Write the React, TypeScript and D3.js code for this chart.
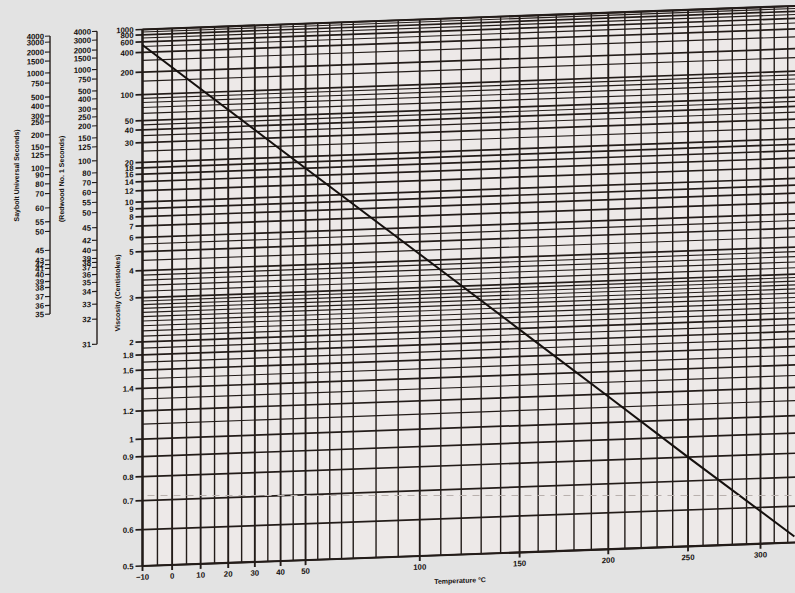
import React from 'react';
import * as d3 from 'd3';

// viscosity / temperature line (°C, centistokes)
const curveTemps = [-10, 40, 100, 150, 200, 250, 325];
const curveVisc = [530, 23.4, 4.3, 1.98, 1.18, 0.8, 0.515];

// vertical grid (°C) and labelled temperatures
const tempGrid = [
  -10, -5, 0, 5, 10, 15, 20, 25, 30, 35, 40, 45, 50, 55, 60, 65, 70,
  80, 90, 100, 110, 120, 130, 140, 150, 160, 170, 180, 190, 200, 210,
  220, 230, 240, 250, 260, 270, 280, 290, 300, 310, 320, 330,
];
const tempLabels = [-10, 0, 10, 20, 30, 40, 50, 100, 150, 200, 250, 300];

// horizontal grid (cSt) and labelled viscosities
const viscGrid = [
  0.5, 0.6, 0.7, 0.8, 0.9, 1, 1.1, 1.2, 1.3, 1.4, 1.5, 1.6, 1.7, 1.8, 1.9,
  2, 2.1, 2.2, 2.3, 2.4, 2.5, 2.6, 2.7, 2.8, 2.9, 3, 3.2, 3.4, 3.6, 3.8,
  4, 4.5, 5, 5.5, 6, 7, 8, 9, 10, 12, 14, 16, 18, 20, 25, 30, 35, 40, 45,
  50, 60, 70, 80, 90, 100, 150, 200, 300, 400, 500, 600, 700, 800, 900, 1000,
];
const viscLabels = [
  1000, 800, 600, 400, 200, 100, 50, 40, 30, 20, 18, 16, 14, 12, 10, 9, 8,
  7, 6, 5, 4, 3, 2, 1.8, 1.6, 1.4, 1.2, 1, 0.9, 0.8, 0.7, 0.6, 0.5,
];

// Saybolt Universal seconds and the centistokes they sit against
const susLabels = [
  4000, 3000, 2000, 1500, 1000, 750, 500, 400, 300, 250, 200, 150, 125, 100,
  90, 80, 70, 60, 55, 50, 45, 43, 42, 41, 40, 39, 38, 37, 36, 35,
];
const susCst = [
  873, 682, 461, 330, 218, 157, 103, 80, 61.3, 52.7, 38.6, 29.5, 24.9, 19.2,
  16.9, 14.3, 12.1, 9.6, 7.8, 6.8, 5.3, 4.7, 4.46, 4.26, 3.98, 3.68, 3.45,
  3.14, 2.87, 2.64,
];

// Redwood No. 1 seconds and the centistokes they sit against
const redwoodLabels = [
  4000, 3000, 2000, 1500, 1000, 750, 500, 400, 300, 250, 200, 150, 125, 100,
  80, 70, 60, 55, 50, 45, 42, 40, 39, 38, 37, 36, 35, 34, 33, 32, 31,
];
const redwoodCst = [
  990, 690, 466, 346, 231, 169, 117, 93, 70.5, 57.3, 45.8, 34.6, 28.4, 21.3,
  16.9, 14.2, 12, 10.2, 8.7, 7, 5.9, 5.2, 4.7, 4.48, 4.23, 3.9, 3.58, 3.25,
  2.86, 2.48, 1.99,
];

const ink = '#231c19';
const font = "'Liberation Sans', Arial, sans-serif";

const App = () => {
  const width = 795;
  const height = 593;
  const left = 142.5;
  const top = 29.5;
  const bottom = 566;
  const skew = 0.036; // the scan is slightly sheared

  const x = d3.scaleLog().domain([263.15, 573.15]).range([left, 760.5]);
  const xT = (t: number) => x(t + 273.15);
  // ASTM D341 ordinate: log log (v + 0.7 + correction)
  const astm = (v: number) =>
    Math.log10(Math.log10(v + 0.7 + Math.exp(-1.47 - 1.84 * v - 0.51 * v * v)));
  const yZ = d3.scaleLinear().domain([astm(0.5), astm(1000)]).range([bottom, top]);
  const y = (v: number) => yZ(astm(v));
  const xEnd = width + 20;

  const curvePath = d3
    .line<number>()
    .x((_, i) => xT(curveTemps[i]))
    .y((d) => y(d))(curveVisc) as string;

  const fmt = (d: number) => (d < 0 ? `\u2212${-d}` : `${d}`);
  const labelStyle = { fontFamily: font, fontWeight: 700, fontSize: 7.8, fill: '#15110f' };

  const sideScale = (ax: number, labels: number[], cst: number[]) => (
    <g>
      <line x1={ax} x2={ax} y1={y(cst[0])} y2={y(cst[cst.length - 1])} stroke={ink} strokeWidth={1.4} />
      {labels.map((l, i) => (
        <g key={l}>
          <line x1={ax - 5} x2={ax} y1={y(cst[i])} y2={y(cst[i])} stroke={ink} strokeWidth={1.1} />
          <text x={ax - 6} y={y(cst[i])} dy="0.35em" textAnchor="end" {...labelStyle}>
            {l}
          </text>
        </g>
      ))}
    </g>
  );

  return (
    <svg
      width={width}
      height={height}
      style={{ position: 'absolute', left: 0, top: 0, display: 'block', background: '#e3e3e3' }}
    >
      <rect width={width} height={height} fill="#e3e3e3" />
      <g transform={`matrix(1 ${-skew} 0 1 0 ${skew * left})`}>
        <rect x={left} y={top} width={xEnd - left} height={bottom - top} fill="#ede9e8" />

        {/* horizontal grid */}
        {viscGrid.map((v) => {
          const lab = viscLabels.includes(v);
          return (
            <line
              key={`h${v}`}
              x1={lab ? left - 7 : left}
              x2={xEnd}
              y1={y(v)}
              y2={y(v)}
              stroke={ink}
              strokeWidth={lab ? 1.7 : 1.15}
            />
          );
        })}

        {/* vertical grid */}
        {tempGrid.map((t) => {
          const lab = tempLabels.includes(t);
          return (
            <line
              key={`v${t}`}
              x1={xT(t)}
              x2={xT(t)}
              y1={top}
              y2={lab ? bottom + 5 : bottom}
              stroke={ink}
              strokeWidth={lab ? 1.9 : 1.4}
            />
          );
        })}

        {/* frame */}
        <line x1={left} x2={xEnd} y1={top} y2={top} stroke={ink} strokeWidth={2.2} />
        <line x1={left} x2={xEnd} y1={bottom} y2={bottom} stroke={ink} strokeWidth={2.2} />
        <line x1={left} x2={left} y1={top} y2={bottom} stroke={ink} strokeWidth={2.2} />

        {/* viscosity labels */}
        {viscLabels.map((v) => (
          <text key={`l${v}`} x={left - 9} y={y(v)} dy="0.35em" textAnchor="end" {...labelStyle}>
            {v}
          </text>
        ))}

        {/* temperature labels */}
        {tempLabels.map((t) => (
          <text key={`t${t}`} x={xT(t)} y={bottom + 11} dy="0.35em" textAnchor="middle" {...labelStyle}>
            {fmt(t)}
          </text>
        ))}

        {/* the line */}
        <path d={curvePath} fill="none" stroke="#15100e" strokeWidth={2} />

        {sideScale(50, susLabels, susCst)}
        {sideScale(97, redwoodLabels, redwoodCst)}

        <text
          transform={`translate(118, 292) rotate(-90)`}
          textAnchor="middle"
          dy="0.35em"
          {...labelStyle}
          fontSize={7}
        >
          Viscosity (Centistokes)
        </text>
        <text
          transform={`translate(17, 171) rotate(-90)`}
          textAnchor="middle"
          dy="0.35em"
          {...labelStyle}
          fontSize={7}
        >
          Saybolt Universal Seconds)
        </text>
        <text
          transform={`translate(62, 176) rotate(-90)`}
          textAnchor="middle"
          dy="0.35em"
          {...labelStyle}
          fontSize={7}
        >
          (Redwood No. 1 Seconds)
        </text>
        <text x={460} y={592} dy="0.35em" textAnchor="middle" {...labelStyle} fontSize={7}>
          Temperature °C
        </text>
      </g>

      {/* faint dashed trace across the scan */}
      <line
        x1={left + 5}
        x2={width}
        y1={y(0.72)}
        y2={y(0.72)}
        stroke="#b9b1ae"
        strokeWidth={1}
        strokeDasharray="7 6"
      />
    </svg>
  );
};

export default App;
